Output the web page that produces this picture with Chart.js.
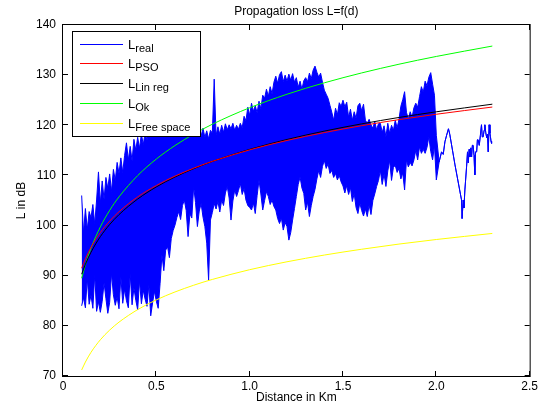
<!DOCTYPE html>
<html>
<head>
<meta charset="utf-8">
<script src="https://cdn.jsdelivr.net/npm/chart.js@4.4.1/dist/chart.umd.min.js"></script>
<style>
  html, body { margin: 0; padding: 0; background: #fff; }
  #wrap { width: 541px; height: 405px; }
</style>
</head>
<body>
<div id="wrap"><canvas id="chart" width="541" height="405"></canvas></div>
<script>
// Mesures (L_real) : enveloppe haute / basse, pas de 0.01 km
const realD = [
  0.10,0.11,0.12,0.13,0.14,0.15,0.16,0.17,0.18,0.19,
  0.20,0.21,0.22,0.23,0.24,0.25,0.26,0.27,0.28,0.29,
  0.30,0.31,0.32,0.33,0.34,0.35,0.36,0.37,0.38,0.39,
  0.40,0.41,0.42,0.43,0.44,0.45,0.46,0.47,0.48,0.49,
  0.50,0.51,0.52,0.53,0.54,0.55,0.56,0.57,0.58,0.59,
  0.60,0.61,0.62,0.63,0.64,0.65,0.66,0.67,0.68,0.69,
  0.70,0.71,0.72,0.73,0.74,0.75,0.76,0.77,0.78,0.79,
  0.80,0.81,0.82,0.83,0.84,0.85,0.86,0.87,0.88,0.89,
  0.90,0.91,0.92,0.93,0.94,0.95,0.96,0.97,0.98,0.99,
  1.00,1.01,1.02,1.03,1.04,1.05,1.06,1.07,1.08,1.09,
  1.10,1.11,1.12,1.13,1.14,1.15,1.16,1.17,1.18,1.19,
  1.20,1.21,1.22,1.23,1.24,1.25,1.26,1.27,1.28,1.29,
  1.30,1.31,1.32,1.33,1.34,1.35,1.36,1.37,1.38,1.39,
  1.40,1.41,1.42,1.43,1.44,1.45,1.46,1.47,1.48,1.49,
  1.50,1.51,1.52,1.53,1.54,1.55,1.56,1.57,1.58,1.59,
  1.60,1.61,1.62,1.63,1.64,1.65,1.66,1.67,1.68,1.69,
  1.70,1.71,1.72,1.73,1.74,1.75,1.76,1.77,1.78,1.79,
  1.80,1.81,1.82,1.83,1.84,1.85,1.86,1.87,1.88,1.89,
  1.90,1.91,1.92,1.93,1.94,1.95,1.96,1.97,1.98,1.99,
  2.00
];
const realHigh = [
  106.0,98.5,103.4,99.2,102.8,101.6,104.2,100.3,105.1,110.7,
  104.5,108.9,105.2,109.6,107.4,110.3,106.8,111.2,109.0,112.6,
  110.4,113.5,110.6,114.0,116.5,113.1,115.8,112.9,117.2,115.0,
  117.6,115.4,118.3,116.1,118.6,117.0,119.1,117.4,118.9,119.6,
  119.0,120.4,119.2,121.0,119.8,121.3,120.1,121.6,120.3,121.2,
  120.6,121.8,120.2,121.5,120.7,122.0,120.5,121.4,120.0,121.1,
  120.3,121.0,119.6,118.7,117.9,119.4,117.6,118.9,117.3,119.0,
  118.4,129.2,118.0,119.7,118.2,120.0,118.6,120.3,119.1,120.1,
  119.3,120.4,119.0,120.0,119.2,120.4,119.5,121.8,120.9,123.6,
  122.0,124.4,122.8,123.9,122.5,124.8,123.3,126.0,125.4,127.2,
  125.8,127.7,126.3,128.6,129.8,128.4,130.1,130.7,128.7,130.0,
  128.8,130.2,129.0,130.3,128.6,129.5,127.6,128.8,127.2,128.9,
  129.5,128.7,130.4,129.3,131.0,131.8,130.6,129.6,130.4,128.6,
  127.0,126.2,125.4,124.0,122.6,121.0,123.4,122.1,124.5,123.8,
  125.0,123.7,124.6,121.6,123.2,121.0,122.7,121.4,123.9,124.4,
  122.9,124.2,121.0,120.4,121.2,120.1,119.4,120.8,119.1,120.3,
  120.4,118.6,119.9,117.7,120.4,118.4,120.0,119.0,121.0,119.5,
  121.2,123.8,125.1,126.7,122.6,121.2,122.7,121.6,123.5,124.4,
  123.6,125.7,127.7,126.6,128.8,127.9,129.6,130.5,128.2,126.0,
  118.0
];
const realLow = [
  84.0,85.6,83.6,89.5,84.3,86.1,83.5,90.2,82.9,84.8,
  82.7,84.9,88.6,85.4,82.5,84.7,90.5,86.2,84.1,85.8,
  83.4,89.8,84.5,87.3,85.0,83.6,90.4,84.2,87.6,85.1,
  83.2,89.0,84.4,87.1,85.3,83.9,88.2,82.0,84.6,86.9,
  84.9,83.5,88.4,94.2,91.0,95.1,95.8,93.6,97.4,99.0,
  100.1,101.6,102.8,101.2,104.0,105.1,103.0,97.8,102.4,101.5,
  107.8,104.6,99.8,102.9,104.4,101.7,99.8,96.5,89.1,101.1,
  102.6,104.4,103.3,104.8,102.7,105.1,104.0,106.5,107.8,105.5,
  101.1,104.9,107.1,105.8,107.0,108.4,106.2,107.4,105.1,104.0,
  103.6,103.1,104.5,102.4,106.0,109.1,106.3,103.1,105.0,106.8,
  105.8,104.2,105.1,103.8,103.1,101.4,100.4,101.5,99.1,100.6,
  99.8,97.1,98.6,101.1,103.4,105.8,108.2,109.7,107.5,106.4,
  103.1,104.7,101.8,104.0,105.8,107.2,109.3,111.0,109.6,111.8,
  113.0,111.4,112.3,110.4,111.0,109.6,110.4,109.1,110.0,108.7,
  107.9,106.5,108.0,106.2,107.6,104.8,106.4,103.6,102.4,104.5,
  103.0,101.9,103.3,101.8,104.1,102.2,105.0,106.3,107.8,109.0,
  111.0,108.2,110.3,107.8,110.9,113.0,109.0,111.6,112.0,110.6,
  111.4,109.3,110.5,107.1,113.1,111.7,112.6,111.9,113.1,115.0,
  113.1,115.7,114.4,115.2,114.4,115.6,117.7,114.8,113.1,116.0,
  109.1
];
// fin de mesure (une seule courbe)
const tailD = [2.015,2.028,2.037,2.046,2.055,2.065,2.072,2.100,2.135,2.138,2.144,2.148,2.153,2.162,2.167,2.171,2.176,2.180,2.185,2.189,2.193,2.197,2.202,2.206,2.210,2.216,2.220,2.224,2.230,2.236,2.242,2.246,2.251,2.256,2.260,2.265,2.270,2.274,2.278,2.283,2.287,2.290,2.293,2.296];
const tailL = [112.7,114.7,114.2,116.7,118.0,119.3,118.2,112.1,105.1,101.4,105.1,103.5,107.1,111.7,114.7,112.5,115.2,113.7,115.5,113.7,116.0,116.0,114.0,110.1,114.7,114.7,117.1,117.1,116.0,118.0,120.1,117.7,117.7,119.0,120.1,118.5,117.5,118.2,114.7,120.1,118.4,117.7,116.8,116.4];

// Modeles
const modelD = [0.1,0.12,0.15,0.2,0.25,0.3,0.4,0.5,0.6,0.7,0.8,1.0,1.2,1.4,1.6,1.8,2.0,2.3];
const lPso = [91.5,93.37,95.66,98.6,100.89,102.76,105.71,107.99,109.87,111.44,112.81,115.1,116.97,118.55,119.92,121.13,122.2,123.64];
const lLinReg = [90.3,92.27,94.68,97.79,100.21,102.18,105.29,107.71,109.68,111.34,112.79,115.2,117.17,118.84,120.28,121.56,122.69,124.21];
const lOk = [89.5,92.19,95.49,99.73,103.03,105.72,109.97,113.27,115.96,118.23,120.21,123.5,126.19,128.47,130.44,132.18,133.73,135.8];
const lFree = [71.2,72.78,74.72,77.22,79.16,80.74,83.24,85.18,86.76,88.1,89.26,91.2,92.78,94.12,95.28,96.31,97.22,98.43];

const xTicks = [0, 0.5, 1, 1.5, 2, 2.5];
const yTicks = [70, 80, 90, 100, 110, 120, 130, 140];

const legendItems = [
  { main: 'L', sub: 'real', color: '#0000ff' },
  { main: 'L', sub: 'PSO', color: '#ff0000' },
  { main: 'L', sub: 'Lin reg', color: '#000000' },
  { main: 'L', sub: 'Ok', color: '#00ff00' },
  { main: 'L', sub: 'Free space', color: '#ffff00' }
];

const FONT = '"Liberation Sans", Arial, Helvetica, sans-serif';

function pts(xs, ys) { return xs.map((x, i) => ({ x: x, y: ys[i] })); }

const highPts = pts(realD, realHigh).concat(pts(tailD, tailL));
const lowPts = pts(realD, realLow).concat(pts(tailD, tailL));

function modelSet(vals, color) {
  return {
    data: pts(modelD, vals), borderColor: color, borderWidth: 1,
    pointRadius: 0, fill: false, cubicInterpolationMode: 'monotone', order: 0
  };
}

// cadre, ticks, legende et textes facon MATLAB
const matlabFrame = {
  id: 'matlabFrame',
  afterDatasetsDraw(chart) {
    const { ctx, chartArea: a, scales } = chart;
    ctx.save();
    ctx.strokeStyle = '#000';
    ctx.lineWidth = 1;
    ctx.strokeRect(a.left - 0.5, a.top - 0.5, a.right - a.left + 1, a.bottom - a.top + 1);
    ctx.beginPath();
    xTicks.forEach(v => {
      const px = Math.round(scales.x.getPixelForValue(v)) - 0.5;
      ctx.moveTo(px, a.bottom); ctx.lineTo(px, a.bottom - 5);
      ctx.moveTo(px, a.top); ctx.lineTo(px, a.top + 5);
    });
    yTicks.forEach(v => {
      const py = Math.round(scales.y.getPixelForValue(v)) - 0.5;
      ctx.moveTo(a.left, py); ctx.lineTo(a.left + 5, py);
      ctx.moveTo(a.right, py); ctx.lineTo(a.right - 5, py);
    });
    ctx.stroke();

    // legende
    const lx = 72, ly = 31, lw = 128, lh = 105;
    ctx.fillStyle = '#fff';
    ctx.fillRect(lx, ly, lw, lh);
    ctx.strokeRect(lx + 0.5, ly + 0.5, lw, lh);
    legendItems.forEach((it, i) => {
      const y = 43.5 + i * 19.8;
      ctx.strokeStyle = it.color;
      ctx.beginPath();
      ctx.moveTo(80, Math.round(y) + 0.5);
      ctx.lineTo(123, Math.round(y) + 0.5);
      ctx.stroke();
      ctx.fillStyle = '#000';
      ctx.textBaseline = 'alphabetic';
      ctx.textAlign = 'left';
      ctx.font = '13px ' + FONT;
      ctx.fillText(it.main, 128, y + 5);
      const w = ctx.measureText(it.main).width;
      ctx.font = '11px ' + FONT;
      ctx.fillText(it.sub, 128 + w, y + 8);
    });

    // textes
    ctx.fillStyle = '#000';
    ctx.font = '12px ' + FONT;
    ctx.textAlign = 'center';
    ctx.textBaseline = 'middle';
    const cx = (a.left + a.right) / 2;
    ctx.fillText('Propagation loss L=f(d)', cx, 12);
    ctx.fillText('Distance in Km', cx, 398);
    ctx.translate(22, (a.top + a.bottom) / 2);
    ctx.rotate(-Math.PI / 2);
    ctx.fillText('L in dB', 0, 0);
    ctx.restore();
  }
};

new Chart(document.getElementById('chart'), {
  type: 'line',
  data: {
    datasets: [
      { data: highPts, borderColor: '#0000ff', backgroundColor: '#0000ff', borderWidth: 1,
        pointRadius: 0, fill: '+1', tension: 0, order: 1 },
      { data: lowPts, borderColor: '#0000ff', borderWidth: 1,
        pointRadius: 0, fill: false, tension: 0, order: 1 },
      modelSet(lPso, '#ff0000'),
      modelSet(lLinReg, '#000000'),
      modelSet(lOk, '#00ff00'),
      modelSet(lFree, '#ffff00')
    ]
  },
  options: {
    responsive: false,
    animation: false,
    devicePixelRatio: 1,
    layout: { padding: { top: 25, right: 11, left: 0, bottom: 0 } },
    plugins: { legend: { display: false }, tooltip: { enabled: false }, title: { display: false } },
    scales: {
      x: {
        type: 'linear', min: 0, max: 2.5,
        afterBuildTicks: s => { s.ticks = xTicks.map(v => ({ value: v })); },
        afterFit: s => { s.height = 29; },
        grid: { display: false, drawTicks: false },
        border: { display: false },
        ticks: { color: '#000', padding: 3, maxRotation: 0, font: { size: 12, family: FONT } }
      },
      y: {
        type: 'linear', min: 70, max: 140,
        afterBuildTicks: s => { s.ticks = yTicks.map(v => ({ value: v })); },
        afterFit: s => { s.width = 63; },
        grid: { display: false, drawTicks: false },
        border: { display: false },
        ticks: { color: '#000', padding: 7, font: { size: 12, family: FONT } }
      }
    }
  },
  plugins: [matlabFrame]
});
</script>
</body>
</html>
